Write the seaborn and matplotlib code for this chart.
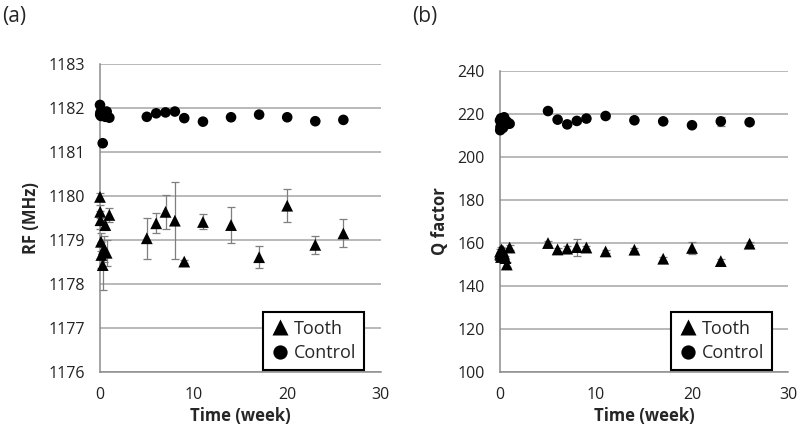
import matplotlib
matplotlib.use("Agg")
import matplotlib.pyplot as plt
import seaborn as sns
import pandas as pd
import numpy as np

# ---- data ----
t_early = [0.0, 0.02, 0.05, 0.1, 0.14, 0.29, 0.43, 0.57, 0.71, 1.0]
t_late = [5, 6, 7, 8, 9, 11, 14, 17, 20, 23, 26]
time_week = t_early + t_late

rf_tooth = [1179.98, 1179.64, 1179.45, 1178.96, 1178.66, 1178.43, 1178.80, 1179.34, 1178.71, 1179.57,
            1179.04, 1179.38, 1179.64, 1179.44, 1178.51, 1179.41, 1179.34, 1178.61, 1179.78, 1178.89, 1179.15]
rf_tooth_err = [0.10, 0.15, 0.20, 0.20, 0.30, 0.57, 0.30, 0.12, 0.30, 0.15,
                0.47, 0.23, 0.38, 0.88, 0.03, 0.17, 0.40, 0.25, 0.375, 0.20, 0.32]
rf_control = [1182.07, 1181.85, 1181.90, 1181.82, 1181.88, 1181.20, 1181.85, 1181.80, 1181.92, 1181.78,
              1181.80, 1181.88, 1181.90, 1181.92, 1181.77, 1181.69, 1181.79, 1181.85, 1181.79, 1181.70, 1181.73]
rf_control_err = [0.02] * 21

q_tooth = [156.0, 155.0, 154.5, 153.5, 157.0, 156.5, 155.0, 153.0, 150.0, 157.9,
           160.0, 157.0, 157.4, 158.1, 157.9, 156.1, 156.9, 152.7, 157.7, 151.6, 159.7]
q_tooth_err = [1.0, 1.0, 1.0, 1.0, 1.0, 1.0, 1.0, 1.0, 1.0, 1.0,
               0.8, 0.8, 1.0, 3.9, 0.8, 0.8, 0.8, 1.0, 2.9, 1.2, 0.8]
q_control = [217.0, 212.5, 214.0, 218.0, 216.0, 213.5, 218.5, 215.0, 216.5, 215.5,
             221.4, 217.4, 215.2, 216.8, 217.9, 219.1, 217.1, 216.6, 214.8, 216.6, 216.2]
q_control_err = [0.8] * 19 + [2.0, 0.8]

rf_ticks = [1176, 1177, 1178, 1179, 1180, 1181, 1182, 1183]
q_ticks = [100, 120, 140, 160, 180, 200, 220, 240]
x_ticks = [0, 10, 20, 30]

sns.set_theme(style="white")
plt.rcParams['font.family'] = ['Open Sans', 'DejaVu Sans']

fig = plt.figure(figsize=(8, 4.4), dpi=100)
ax1 = fig.add_axes([0.125, 0.1545, 0.351, 0.70])
ax2 = fig.add_axes([0.625, 0.1545, 0.36, 0.684])

grid_c = "#a6a6a6"
axis_c = "#8c8c8c"


def panel(ax, tooth, tooth_err, control, control_err, yticks, ylabel, anchor_x):
    df = pd.DataFrame({
        "Time": time_week * 2,
        "val": tooth + control,
        "group": ["Tooth"] * len(tooth) + ["Control"] * len(control),
    })
    ax.errorbar(time_week, tooth, yerr=tooth_err, fmt="none", ecolor="#7f7f7f",
                elinewidth=0.9, capsize=3, capthick=0.9, zorder=2, clip_on=False)
    ax.errorbar(time_week, control, yerr=control_err, fmt="none", ecolor="#7f7f7f",
                elinewidth=0.9, capsize=3, capthick=0.9, zorder=2, clip_on=False)
    sns.scatterplot(data=df, x="Time", y="val", hue="group", style="group", size="group",
                    markers={"Tooth": "^", "Control": "o"},
                    palette={"Tooth": "black", "Control": "black"},
                    sizes={"Tooth": 72, "Control": 58},
                    edgecolor="none", ax=ax, zorder=3, clip_on=False)
    ax.set_xlim(0, 30)
    ax.set_ylim(yticks[0], yticks[-1])
    ax.set_xticks(x_ticks)
    ax.set_yticks(yticks)
    ax.yaxis.grid(True, color=grid_c, linewidth=1.1)
    ax.xaxis.grid(False)
    ax.set_axisbelow(True)
    for s in ["top", "right"]:
        ax.spines[s].set_visible(False)
    for s in ["left", "bottom"]:
        ax.spines[s].set_color(axis_c)
        ax.spines[s].set_linewidth(1.1)
    ax.tick_params(axis="both", which="major", direction="out", length=5,
                   color=axis_c, width=1.0, labelsize=11.5, labelcolor="#222222", pad=6)
    ax.set_xlabel("Time (week)", fontsize=12, fontweight="bold", labelpad=3)
    ax.set_ylabel(ylabel, fontsize=12, fontweight="bold", labelpad=6)
    leg = ax.legend(loc="lower right", bbox_to_anchor=(anchor_x, 0.006), borderaxespad=0,
                    frameon=True, fancybox=False, fontsize=13, handletextpad=0.25,
                    handlelength=1.0, borderpad=0.45, labelspacing=0.35, markerscale=1.35)
    leg.get_frame().set_edgecolor("black")
    leg.get_frame().set_linewidth(1.5)
    leg.get_frame().set_alpha(1)


panel(ax1, rf_tooth, rf_tooth_err, rf_control, rf_control_err, rf_ticks, "RF (MHz)", 0.94)
panel(ax2, q_tooth, q_tooth_err, q_control, q_control_err, q_ticks, "Q factor", 0.945)

fig.text(0.003, 0.963, "(a)", fontsize=15, va="center", ha="left")
fig.text(0.515, 0.963, "(b)", fontsize=15, va="center", ha="left")

fig.savefig("out.png", dpi=100)
